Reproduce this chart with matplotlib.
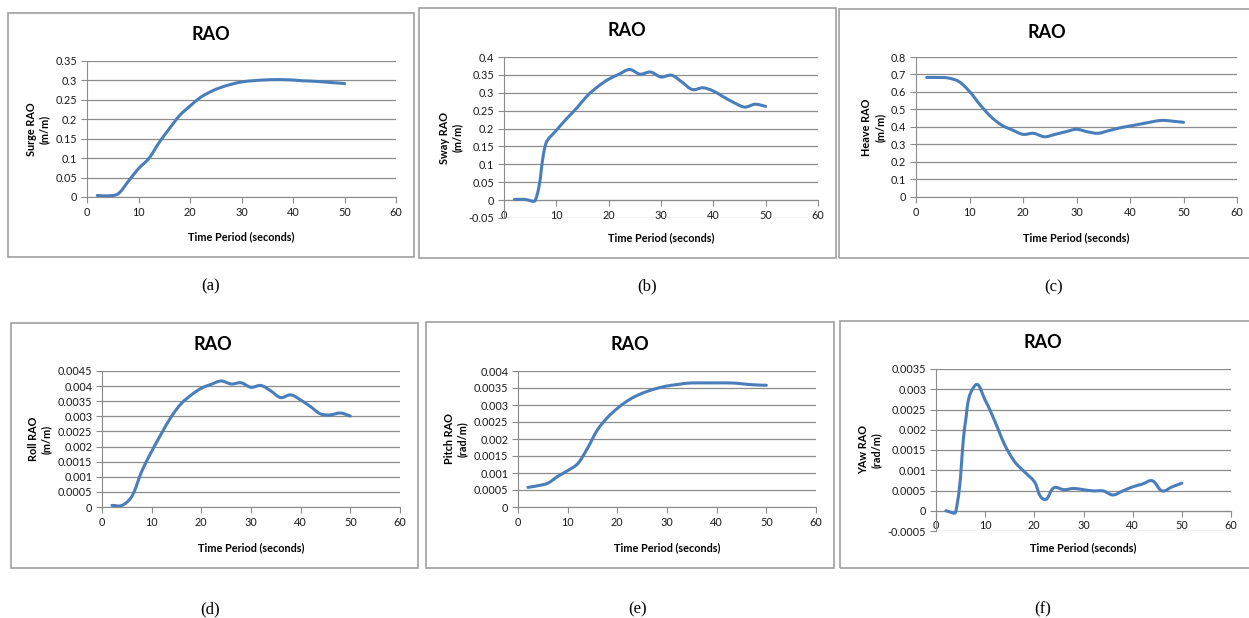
import numpy as np
import matplotlib
matplotlib.use('Agg')
import matplotlib.pyplot as plt
from matplotlib.path import Path
from matplotlib.patches import PathPatch, Rectangle
from matplotlib.ticker import MultipleLocator, FuncFormatter

# time period (s), same for every panel
period = [2, 4, 6, 8, 10, 12, 14, 16, 18, 20, 22, 24, 26,
          28, 30, 32, 34, 36, 38, 40, 42, 44, 46, 48, 50]

surge = [0.004, 0.003, 0.008, 0.040, 0.073, 0.099, 0.140, 0.176, 0.210, 0.234,
         0.256, 0.271, 0.282, 0.290, 0.296, 0.299, 0.301, 0.302, 0.302, 0.301,
         0.299, 0.298, 0.296, 0.294, 0.292]
sway = [0.002, 0.002, 0.000, 0.158, 0.195, 0.228, 0.259, 0.293, 0.318, 0.338,
        0.352, 0.365, 0.352, 0.358, 0.344, 0.349, 0.330, 0.309, 0.314, 0.305,
        0.288, 0.272, 0.260, 0.268, 0.262]
heave = [0.683, 0.683, 0.680, 0.660, 0.603, 0.526, 0.459, 0.411, 0.383, 0.358,
         0.364, 0.344, 0.358, 0.373, 0.387, 0.373, 0.364, 0.379, 0.394, 0.406,
         0.417, 0.429, 0.438, 0.433, 0.427]
roll = [0.000055, 0.00005, 0.00035, 0.00118, 0.00184, 0.00244, 0.00300, 0.00343,
        0.00371, 0.00393, 0.00406, 0.00417, 0.00407, 0.00411, 0.00396, 0.00402,
        0.00384, 0.00362, 0.00371, 0.00354, 0.00332, 0.00308, 0.00305, 0.00311,
        0.00301]
pitch = [0.000577, 0.000626, 0.00070, 0.00090, 0.00107, 0.00127, 0.00173, 0.00227,
         0.00263, 0.00290, 0.00312, 0.00328, 0.00340, 0.00349, 0.00356, 0.00360,
         0.00364, 0.00365, 0.00365, 0.00365, 0.00365, 0.00364, 0.00361, 0.00359,
         0.00358]
yaw = [0.0, -0.00003, 0.0022, 0.0031, 0.00273, 0.0022, 0.00162, 0.00121, 0.00096,
       0.00072, 0.00028, 0.00057, 0.00052, 0.00055, 0.00052, 0.00049, 0.00049,
       0.00039, 0.00049, 0.00059, 0.00066, 0.00074, 0.00049, 0.00059, 0.00068]

ylabels = ['Surge RAO\n(m/m)', 'Sway RAO\n(m/m)', 'Heave RAO\n(m/m)',
           'Roll RAO\n(m/m)', 'Pitch RAO\n(rad/m)', 'YAw RAO\n(rad/m)']
captions = ['(a)', '(b)', '(c)', '(d)', '(e)', '(f)']
series = [surge, sway, heave, roll, pitch, yaw]
ylims = [(0, 0.35), (-0.05, 0.4), (0, 0.8), (0, 0.0045), (0, 0.004), (-0.0005, 0.0035)]
ysteps = [0.05, 0.05, 0.1, 0.0005, 0.0005, 0.0005]

W, H = 1249, 618
# plot area in pixels: left, right, top, bottom
areas = [(87, 396, 61, 197), (504, 818, 57, 218), (916, 1237, 57, 197),
         (102, 400, 371, 507), (518, 816, 371, 507), (936, 1231, 369, 531)]
# chart boxes in pixels: left, right, top, bottom
boxes = [(8, 414, 13, 257), (419, 836, 8, 258), (839, 1252, 9, 258),
         (11, 418, 323, 568), (426, 834, 322, 568), (840, 1252, 321, 568)]
title_pos = [(211, 35), (627, 30), (1047, 32), (213, 344), (630, 345), (1043, 343)]
cap_pos = [(211, 286), (647, 286), (1054, 287), (210, 609), (638, 609), (1043, 609)]

BLUE = '#4A7EBB'
GRID = '#8C8C8C'

plt.rcParams['font.family'] = 'Lato'


def smooth_path(x, y, sx, sy):
    # excel-like smoothed line, control points worked out in pixel space
    pts = np.column_stack([np.array(x) * sx, np.array(y) * sy])
    n = len(pts)
    tang = []
    for i in range(n):
        d = pts[min(i + 1, n - 1)] - pts[max(i - 1, 0)]
        tang.append(d / np.hypot(*d))
    verts = [pts[0]]
    codes = [Path.MOVETO]
    for i in range(n - 1):
        seg = np.hypot(*(pts[i + 1] - pts[i]))
        c1 = pts[i] + tang[i] * seg * 0.33
        c2 = pts[i + 1] - tang[i + 1] * seg * 0.33
        verts += [c1, c2, pts[i + 1]]
        codes += [Path.CURVE4] * 3
    verts = np.array(verts) / [sx, sy]
    return Path(verts, codes)


fig = plt.figure(figsize=(W / 100, H / 100), dpi=100)

for k in range(6):
    l, r, t, b = areas[k]
    y0, y1 = ylims[k]
    ax = fig.add_axes([l / W, 1 - b / H, (r - l) / W, (b - t) / H])
    ax.set_xlim(0, 60)
    ax.set_ylim(y0, y1)
    ax.xaxis.set_major_locator(MultipleLocator(10))
    ax.yaxis.set_major_locator(MultipleLocator(ysteps[k]))
    ax.yaxis.set_major_formatter(FuncFormatter(lambda v, p: f'{round(v, 6):g}'))
    ax.grid(axis='y', color=GRID, lw=0.9)
    ax.set_axisbelow(True)
    for s in ['top', 'right']:
        ax.spines[s].set_visible(False)
    ax.spines['left'].set_color(GRID)
    ax.spines['bottom'].set_color(GRID)
    if y0 < 0:
        ax.spines['bottom'].set_position(('data', 0))
    ax.tick_params(axis='both', length=4, color=GRID, labelsize=7.8,
                   labelcolor='#1a1a1a', pad=3)
    sx = (r - l) / 60.0
    sy = (b - t) / (y1 - y0)
    patch = PathPatch(smooth_path(period, series[k], sx, sy), fill=False,
                      edgecolor=BLUE, lw=2.2, capstyle='round', zorder=3)
    ax.add_patch(patch)
    ax.set_ylabel(ylabels[k], fontsize=7.8, fontweight='bold', linespacing=1.25)

    bl, br, bt, bb = boxes[k]
    fig.text((l + r) / 2 / W, 1 - (bb - 20) / H, 'Time Period (seconds)',
             ha='center', va='center', fontsize=7.8, fontweight='bold')
    fig.text(title_pos[k][0] / W, 1 - title_pos[k][1] / H, 'RAO',
             ha='center', va='center', fontsize=13, fontweight='bold')
    fig.patches.append(Rectangle((bl / W, 1 - bb / H), (br - bl) / W, (bb - bt) / H,
                                 transform=fig.transFigure, fill=False,
                                 edgecolor='#A0A0A0', lw=1.2))
    fig.text(cap_pos[k][0] / W, 1 - cap_pos[k][1] / H, captions[k],
             ha='center', va='center', fontsize=12, family='Liberation Serif')

fig.savefig('out.png', dpi=100, facecolor='white')
